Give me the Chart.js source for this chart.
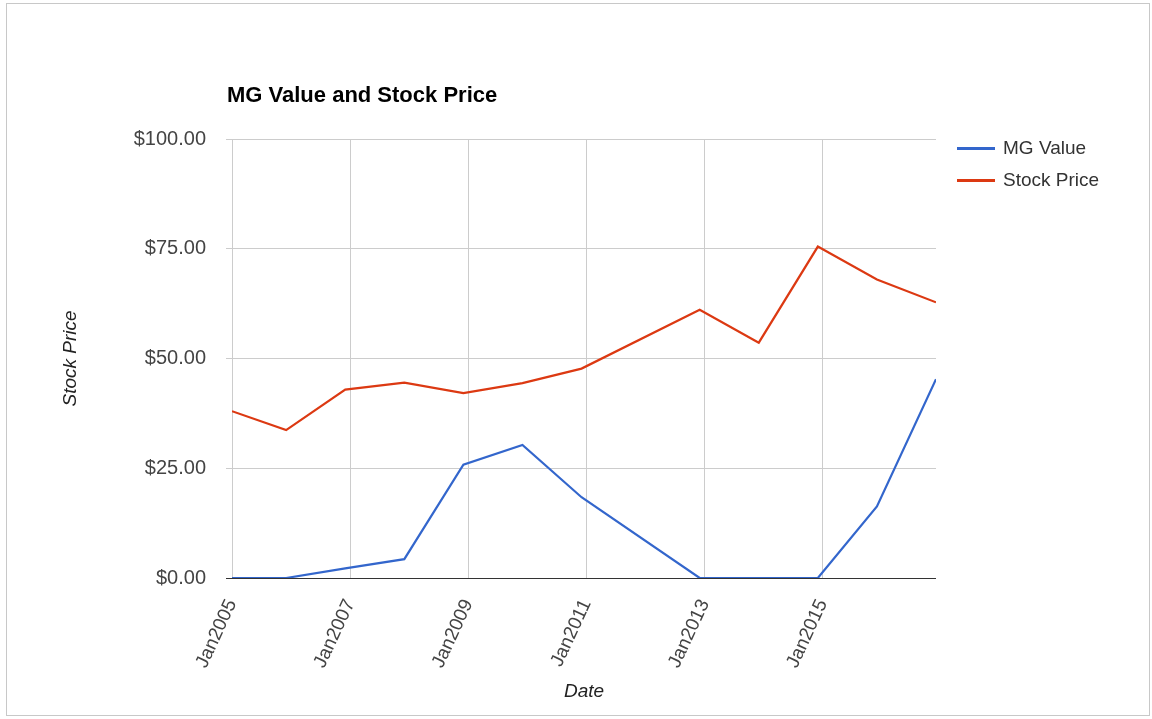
<!DOCTYPE html>
<html lang="en">
<head>
  <meta charset="UTF-8" />
  <title>MG Value and Stock Price</title>
  <script src="https://cdn.jsdelivr.net/npm/chart.js"></script>
  <style>
    body {
      margin: 0;
      background: #fff;
      font-family: 'Liberation Sans', Arial, sans-serif;
    }
    #wrap {
      position: relative;
      width: 1152px;
      height: 719px;
    }
    #frame {
      position: absolute;
      left: 6px;
      top: 3px;
      width: 1142px;
      height: 711px;
      border: 1px solid #c8c8c8;
      pointer-events: none;
    }
    #title {
      position: absolute;
      left: 227px;
      top: 84px;
      font-size: 22px;
      line-height: 22px;
      font-weight: bold;
      color: #000;
    }
    #legend {
      position: absolute;
      left: 957px;
      top: 132px;
    }
    .item {
      display: flex;
      align-items: center;
      height: 32px;
      font-size: 19px;
      color: #333;
    }
    .swatch {
      width: 38px;
      height: 3px;
      margin-right: 8px;
    }
    canvas { position: absolute; left: 0; top: 0; }
  </style>
</head>
<body>
  <div id="wrap">
    <canvas id="chart" width="1152" height="719"></canvas>
    <div id="title">MG Value and Stock Price</div>
    <div id="legend"></div>
    <div id="frame"></div>
  </div>
  <script>
    // data (dates are year-month)
    const dates = ["2005-01", "2005-12", "2006-12", "2007-12", "2008-12", "2009-12",
                   "2010-12", "2012-12", "2013-12", "2014-12", "2015-12", "2016-12"];
    const mgValue = [0, 0, 2.2, 4.3, 25.8, 30.3, 18.4, 0, 0, 0, 16.3, 45.3];
    const stockPrice = [38.0, 33.7, 42.9, 44.5, 42.1, 44.4, 47.7, 61.1, 53.6, 75.5, 68.0, 62.8];
    const seriesNames = ["MG Value", "Stock Price"];
    const seriesColors = ["#3366cc", "#dc3912"];
    const xTickYears = [2005, 2007, 2009, 2011, 2013, 2015];
    const yTickValues = [0, 25, 50, 75, 100];

    function toYear(d) {
      const [y, m] = d.split("-").map(Number);
      return y + (m - 1) / 12;
    }
    const xs = dates.map(toYear);

    // legend
    const legend = document.getElementById("legend");
    seriesNames.forEach((name, i) => {
      const row = document.createElement("div");
      row.className = "item";
      row.innerHTML = `<span class="swatch" style="background:${seriesColors[i]}"></span>${name}`;
      legend.appendChild(row);
    });

    const font = "'Liberation Sans', Arial, sans-serif";

    new Chart(document.getElementById("chart"), {
      type: "line",
      data: {
        datasets: [mgValue, stockPrice].map((vals, i) => ({
          label: seriesNames[i],
          data: vals.map((v, j) => ({ x: xs[j], y: v })),
          borderColor: seriesColors[i],
          backgroundColor: seriesColors[i],
          borderWidth: 2.2,
          pointRadius: 0,
          tension: 0
        }))
      },
      options: {
        responsive: false,
        animation: false,
        layout: { padding: { top: 139, right: 216, left: 0, bottom: 0 } },
        plugins: { legend: { display: false }, tooltip: { enabled: false } },
        scales: {
          x: {
            type: "linear",
            min: toYear("2005-01"),
            max: toYear("2016-12"),
            afterBuildTicks: s => { s.ticks = xTickYears.map(v => ({ value: v })); },
            afterFit: s => { s.height = 141; },
            grid: { color: "#cccccc", drawTicks: false },
            border: { display: false },
            ticks: {
              minRotation: 65,
              maxRotation: 65,
              padding: 18,
              color: "#444",
              font: { family: font, size: 19 },
              callback: v => "Jan" + v
            },
            title: {
              display: true,
              text: "Date",
              color: "#222",
              font: { family: font, size: 19, style: "italic" },
              padding: { top: 0, bottom: 16 }
            }
          },
          y: {
            min: 0,
            max: 100,
            afterBuildTicks: s => { s.ticks = yTickValues.map(v => ({ value: v })); },
            afterFit: s => { s.width = 232; },
            grid: {
              color: c => (c.tick && c.tick.value === 0 ? "#333" : "#cccccc"),
              tickLength: 6
            },
            border: { display: false },
            ticks: {
              padding: 20,
              color: "#444",
              font: { family: font, size: 20 },
              callback: v => "$" + v.toFixed(2)
            },
            title: {
              display: true,
              text: "Stock Price",
              color: "#222",
              font: { family: font, size: 19, style: "italic" },
              padding: { top: 59, bottom: 0 }
            }
          }
        }
      }
    });
  </script>
</body>
</html>
